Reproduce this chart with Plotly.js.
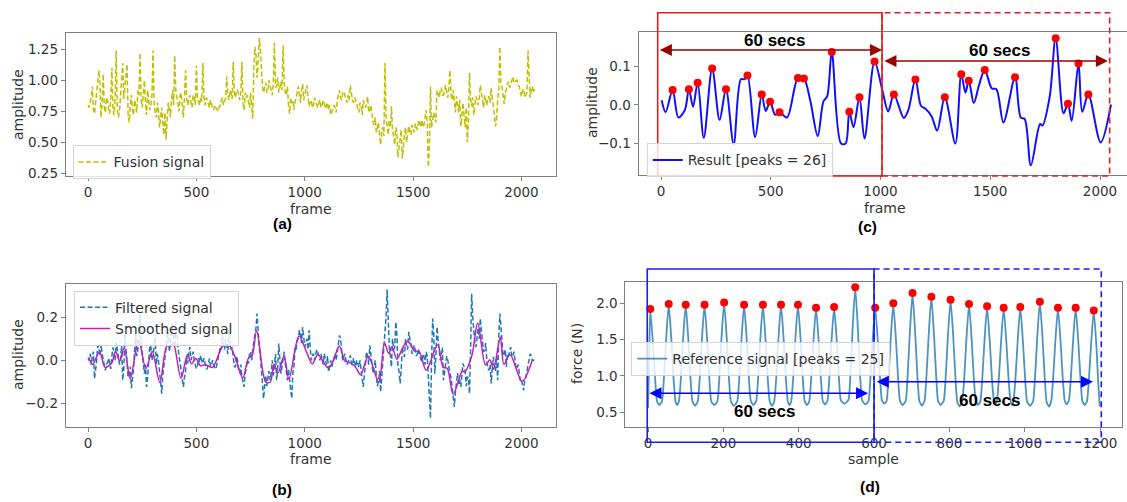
<!DOCTYPE html>
<html>
<head>
<meta charset="utf-8">
<script src="https://cdn.plot.ly/plotly-3.0.1.min.js"></script>
<style>html,body{margin:0;padding:0;background:#fff;}#chart{width:1127px;height:502px;}</style>
</head>
<body>
<div id="chart"></div>
<script>
// ---------- (a) Fusion signal: values read at frames 0,10,20,... and at 5,15,25,... ----------
const fusionStep = 10;
const fusionEven = [
0.80,0.83,0.95,0.73,0.88,1.08,0.70,1.05,0.74,0.84,0.73,1.10,0.72,1.24,0.70,0.86,1.14,0.95,1.13,0.66,
0.88,0.72,0.80,0.92,1.22,0.78,1.00,0.72,0.86,0.80,1.24,0.74,0.82,0.62,0.78,0.56,0.52,0.82,0.70,0.92,
1.20,0.86,0.75,0.90,0.70,1.08,0.80,0.88,0.78,0.86,1.12,0.82,0.87,1.14,0.80,0.84,0.78,0.80,0.76,0.78,
0.75,0.80,0.86,0.84,1.03,0.84,0.90,1.15,0.86,0.92,0.84,1.15,0.76,0.86,0.82,0.90,0.69,1.27,1.02,1.34,
1.05,0.90,0.98,0.92,0.95,0.88,1.30,0.96,0.90,0.99,1.28,0.90,0.95,0.73,0.82,0.76,0.88,0.95,0.82,0.97,
0.88,0.96,0.79,0.84,0.80,0.83,0.78,0.84,0.80,0.82,0.79,0.76,0.72,0.76,0.78,0.84,0.92,0.84,0.91,0.85,
0.88,0.96,0.84,0.86,0.80,0.74,0.79,0.84,0.78,0.87,0.76,0.71,0.64,0.58,0.66,0.48,0.62,1.14,0.60,0.68,
0.79,0.55,0.62,0.38,0.56,0.37,0.57,0.50,0.63,0.56,0.60,0.65,0.60,0.66,0.68,0.64,0.76,0.30,0.95,0.68,
0.70,0.92,0.86,0.94,0.88,0.96,0.86,1.08,0.84,0.81,0.87,0.74,0.63,0.82,0.62,0.50,1.06,0.79,0.72,0.87,
0.80,0.96,0.84,0.88,0.80,0.87,0.94,0.80,0.63,0.85,1.27,0.95,0.81,0.94,0.99,0.96,1.03,0.98,1.00,0.95,
0.87,0.93,0.88,1.24,0.86,0.95,0.93];
const fusionOdd = [
0.78,0.86,0.76,0.82,1.02,0.98,0.82,0.78,0.86,0.77, 0.86,0.76,0.85,0.78,0.74,1.02,0.85,1.06,0.72,0.80,
0.76,0.84,0.74,0.88,0.84,0.90,0.82,0.92,0.76,0.88, 0.80,0.70,0.76,0.72,0.66,0.74,0.68,0.76,0.85,0.80,
0.92,0.80,0.88,0.78,0.86,0.86,0.84,0.82,0.88,0.80, 0.86,0.80,0.83,0.86,0.86,0.80,0.84,0.77,0.80,0.76,
0.78,0.84,0.80,0.86,0.88,0.92,0.85,0.90,0.92,0.86, 0.90,0.82,0.90,0.88,0.78,0.82,1.10,1.20,1.15,1.25,
0.95,0.94,0.90,1.00,0.92,0.98,0.94,1.02,0.94,0.92, 0.98,0.88,0.80,0.86,0.84,0.82,0.90,0.86,0.92,0.84,
0.92,0.86,0.82,0.78,0.86,0.80,0.82,0.78,0.84,0.77, 0.82,0.80,0.75,0.80,0.74,0.88,0.86,0.90,0.88,0.82,
0.84,0.88,0.82,0.84,0.76,0.82,0.72,0.80,0.82,0.74, 0.80,0.66,0.70,0.62,0.56,0.60,0.55,0.70,0.56,0.62,
0.60,0.48,0.58,0.45,0.60,0.44,0.62,0.56,0.58,0.64, 0.58,0.62,0.68,0.62,0.62,0.70,0.66,0.45,0.62,0.74,
0.66,0.88,0.92,0.88,0.92,0.90,0.95,0.88,0.92,0.74, 0.80,0.84,0.70,0.72,0.78,0.66,0.85,0.86,0.80,0.84,
0.86,0.90,0.78,0.84,0.86,0.82,0.86,0.72,0.68,0.92, 0.98,0.88,0.90,0.96,0.94,0.99,0.98,1.00,0.96,0.90,
0.92,0.86,0.90,0.95,0.92,0.90];

// ---------- (b) Filtered signal: values read at frames 0,10,... and 5,15,... ----------
const filteredStep = 10;
const filteredEven = [
0.01,0.03,0.02,-0.085,0.0,0.06,0.078,0.0,-0.047,-0.01,-0.015,0.02,0.04,0.085,0.03,0.01,-0.093,0.124,0.0,-0.062,
-0.13,-0.04,0.124,0.05,0.217,0.02,-0.062,-0.124,0.0,0.062,0.02,0.108,0.03,-0.06,-0.155,-0.03,0.06,0.14,0.08,0.17,
0.06,0.14,0.02,-0.06,-0.124,-0.05,-0.015,0.062,0.02,0.0,-0.039,0.01,0.023,-0.015,-0.01,-0.039,0.008,-0.02,-0.023,-0.039,
0.0,0.062,0.116,0.05,0.07,0.14,0.05,0.015,-0.031,0.0,-0.06,-0.078,-0.124,-0.04,-0.015,0.04,0.062,0.12,0.217,0.062,
-0.047,-0.178,-0.07,-0.078,-0.093,0.0,-0.03,-0.093,0.078,-0.062,0.02,-0.015,-0.093,-0.1,-0.178,-0.031,0.05,0.1,0.12,0.155,
0.062,0.1,0.14,0.0,0.031,0.02,0.039,0.0,0.008,0.031,-0.02,-0.054,0.0,-0.01,0.031,0.05,0.116,0.04,0.016,0.0,
-0.01,0.023,-0.023,-0.01,0.0,-0.031,-0.06,-0.124,-0.02,0.016,0.07,0.0,-0.031,-0.07,-0.1,-0.147,-0.015,0.108,0.329,0.062,
-0.031,0.05,0.178,-0.031,-0.108,0.062,0.016,0.06,0.132,0.078,0.06,0.047,0.03,0.023,-0.008,0.02,0.039,-0.093,-0.27,0.194,
-0.062,0.155,0.062,0.02,-0.093,-0.02,0.0,-0.062,-0.12,-0.217,-0.093,-0.11,-0.124,-0.015,-0.05,-0.078,-0.155,0.31,0.124,0.062,
0.15,0.194,0.093,0.047,0.0,-0.047,-0.108,0.016,-0.05,-0.093,0.217,0.093,0.03,-0.031,0.02,0.062,0.016,0.0,-0.031,-0.06,
-0.093,-0.14,-0.08,-0.02,0.03,0.0,0.0];
const filteredOdd = [
0.0,-0.02,0.04,-0.05,0.07,0.02,0.03,-0.03,-0.02,0.01, -0.04,0.06,0.0,0.05,-0.02,0.07,-0.04,0.06,-0.08,-0.03,
-0.09,0.05,0.02,0.15,0.08,-0.04,-0.02,-0.08,0.07,0.0, 0.06,-0.02,0.0,-0.12,-0.07,0.02,0.1,0.04,0.12,0.1,
0.18,0.06,-0.03,-0.1,-0.08,0.02,0.03,0.0,0.04,-0.02, -0.03,-0.01,0.0,0.01,-0.04,-0.02,-0.03,0.0,-0.04,-0.02,
0.03,0.05,0.08,0.1,0.03,0.09,0.06,-0.03,0.02,-0.05, -0.02,-0.1,-0.06,0.0,0.03,0.0,0.09,0.15,0.13,0.02,
-0.09,-0.12,-0.12,-0.05,-0.06,-0.07,0.03,-0.04,0.02,-0.03, 0.04,-0.06,-0.04,-0.14,-0.06,0.06,0.09,0.14,0.08,0.12,
0.08,0.05,0.06,0.02,0.0,0.05,0.02,0.03,-0.02,0.0, 0.02,-0.03,-0.03,0.02,0.0,0.08,0.1,0.0,0.03,-0.02,
0.01,-0.01,0.01,-0.03,-0.02,0.0,-0.09,-0.07,0.04,-0.02, 0.03,-0.06,0.0,-0.12,-0.05,-0.08,0.04,0.2,0.15,0.02,
0.1,0.06,0.12,-0.05,-0.04,0.03,0.1,0.05,0.1,0.03, 0.07,0.02,0.05,0.0,0.03,-0.02,0.02,-0.18,0.0,0.12,
0.02,0.1,0.0,0.06,-0.05,0.02,-0.04,-0.08,-0.18,-0.15, -0.06,-0.09,-0.07,-0.03,-0.12,-0.08,0.05,0.2,0.08,0.12,
0.1,0.14,0.04,0.08,-0.04,-0.02,-0.05,-0.03,0.02,0.1, 0.16,0.02,0.05,0.03,0.05,0.02,0.04,-0.04,-0.02,-0.1,
-0.12,-0.09,-0.05,0.0,0.02,0.0];

// ---------- (b)/(c) Smoothed signal / Result ----------
const smoothFrames = [3,21,53,79,109,127,146,167,195,233,267,296,331,364,381,394,429,459,477,497,520,540,574,624,651,679,714,740,757,778,
820,841,858,877,904,927,973,1008,1035,1061,1106,1127,1159,1185,1205,1233,1258,1293,1341,1368,1387,1402,1425,1449,1475,1507,1528,1560,1613,1639,
1657,1685,1727,1738,1771,1798,1834,1854,1871,1902,1919,1947,2003,2050];
const smoothValues = [0.012,-0.019,0.039,-0.033,-0.013,0.041,-0.005,0.058,-0.086,0.095,-0.039,0.041,-0.103,0.067,0.067,0.077,-0.084,0.027,-0.016,0.008,-0.026,-0.019,-0.033,0.070,0.069,0.014,-0.081,0.009,0.022,0.138,
-0.101,-0.101,-0.018,-0.058,0.020,-0.088,0.113,0.039,-0.017,0.027,-0.034,-0.013,0.066,-0.003,-0.010,-0.030,-0.067,0.020,-0.101,0.080,0.032,0.063,0.005,0.052,0.091,0.043,0.041,-0.046,0.072,-0.033,
-0.037,-0.158,-0.050,-0.054,0.022,0.174,-0.022,0.003,-0.042,0.108,-0.018,0.027,-0.098,0.001];

// ---------- (c) Detected peaks ----------
const resultPeakFrames = [53,127,167,233,296,394,459,497,540,624,651,778,858,904,973,1061,1159,1293,1368,1402,1475,1613,1798,1854,1902,1947];
const resultPeakValues = [0.039,0.041,0.058,0.095,0.041,0.077,0.027,0.008,-0.019,0.070,0.069,0.138,-0.018,0.020,0.113,0.027,0.066,0.020,0.080,0.063,0.091,0.072,0.174,0.003,0.108,0.027];

// ---------- (d) Reference force signal ----------
const refSamples = [0,3,6,
13,19,24,30,37,42,48,55, 62,68,73,77,82,87,93,100, 107,113,118,125,132,137,143,150, 157,163,168,176,184,189,195,202,
209,215,220,228,237,242,248,255, 262,268,273,280,287,292,298,305, 312,318,323,329,335,340,346,353, 360,366,371,375,380,385,391,398,
405,411,416,422,428,433,439,446, 453,459,464,470,476,481,487,494, 501,507,512,522,532,537,543,550, 557,563,568,576,585,590,596,603,
610,616,621,627,633,638,644,651, 658,664,669,676,684,689,695,702, 709,715,720,727,734,739,745,752, 759,765,770,777,785,790,796,803,
810,816,821,827,834,839,845,852, 859,865,870,876,882,887,893,900, 907,913,918,922,926,931,937,944, 951,957,962,966,970,975,981,988,
995,1001,1006,1014,1022,1027,1033,1040, 1047,1053,1058,1064,1070,1075,1081,1088, 1095,1101,1106,1111,1117,1122,1128,1135,
1142,1148,1153,1159,1165,1170,1176,1183, 1190,1195,1199];
const refForce = [0.56,1.25,1.92,
1.45,0.95,0.65,0.60,0.65,0.95,1.50,1.99, 1.50,0.95,0.65,0.60,0.65,0.95,1.50,1.98, 1.50,0.95,0.65,0.59,0.65,0.95,1.50,1.98, 1.50,0.95,0.65,0.60,0.65,0.95,1.52,2.01,
1.52,0.95,0.65,0.59,0.65,0.95,1.50,1.98, 1.50,0.95,0.65,0.60,0.65,0.95,1.50,1.98, 1.50,0.95,0.65,0.59,0.65,0.95,1.50,1.98, 1.50,0.95,0.65,0.60,0.65,0.95,1.50,1.98,
1.50,0.95,0.65,0.60,0.65,0.95,1.47,1.94, 1.47,0.95,0.65,0.61,0.65,0.95,1.48,1.95, 1.48,0.95,0.66,0.62,0.67,1.00,1.65,2.22, 1.65,1.00,0.67,0.61,0.65,0.95,1.47,1.94,
1.47,0.95,0.66,0.62,0.65,0.95,1.50,2.00, 1.50,0.95,0.65,0.60,0.66,1.00,1.60,2.14, 1.60,1.00,0.66,0.59,0.66,1.00,1.57,2.09, 1.57,0.98,0.65,0.60,0.66,0.98,1.55,2.05,
1.55,0.97,0.64,0.58,0.65,0.95,1.50,1.99, 1.50,0.95,0.65,0.60,0.65,0.95,1.48,1.96, 1.48,0.95,0.66,0.61,0.66,0.95,1.47,1.94, 1.47,0.95,0.66,0.60,0.66,0.95,1.47,1.95,
1.47,0.95,0.65,0.59,0.65,0.96,1.53,2.02, 1.53,0.96,0.64,0.58,0.65,0.95,1.47,1.94, 1.47,0.95,0.66,0.61,0.66,0.95,1.47,1.94,
1.47,0.95,0.65,0.60,0.65,0.94,1.44,1.90, 1.42,0.90,0.58];
const refPeakSamples = [6,55,100,150,202,255,305,353,398,446,494,550,603,651,702,752,803,852,900,944,988,1040,1088,1135,1183];
const refPeakValues = [1.92,1.99,1.98,1.98,2.01,1.98,1.98,1.98,1.98,1.94,1.95,2.22,1.94,2.00,2.14,2.09,2.05,1.99,1.96,1.94,1.95,2.02,1.94,1.94,1.90];

// ---------- labels ----------
const labelFusion = 'Fusion signal';
const labelFiltered = 'Filtered signal';
const labelSmoothed = 'Smoothed signal';
const labelResult = 'Result [peaks = ' + resultPeakFrames.length + ']';
const labelRef = 'Reference signal [peaks = ' + refPeakSamples.length + ']';
const spanText = '60 secs';
const frameTicks = [0,500,1000,1500,2000];
const sampleTicks = [0,200,400,600,800,1000,1200];

// merge the two read passes (frames 0,10,.. and 5,15,..) into one series
function interleave(even, odd, step) {
  const xs = [], ys = [];
  for (let i = 0; i < even.length; i++) {
    xs.push(i * step); ys.push(even[i]);
    if (i < odd.length) { xs.push(i * step + step / 2); ys.push(odd[i]); }
  }
  return {x: xs, y: ys};
}
const fusion = interleave(fusionEven, fusionOdd, fusionStep);
const filtered = interleave(filteredEven, filteredOdd, filteredStep);

const W = 1127, H = 502;
const px = v => v / W;
const py = v => 1 - v / H;
const FONT = 'DejaVu Sans, sans-serif';
const TXT = '#333333';

const traces = [
  {x: fusion.x, y: fusion.y, type: 'scatter', mode: 'lines', name: labelFusion,
   line: {color: '#bfbf00', width: 1.5, dash: '5px,2.5px'}, xaxis: 'x', yaxis: 'y', legend: 'legend'},
  {x: filtered.x, y: filtered.y, type: 'scatter', mode: 'lines', name: labelFiltered,
   line: {color: '#1f77b4', width: 1.5, dash: '5px,2.5px'}, xaxis: 'x2', yaxis: 'y2', legend: 'legend2'},
  {x: smoothFrames, y: smoothValues, type: 'scatter', mode: 'lines', name: labelSmoothed,
   line: {color: '#c21fc2', width: 1.5, shape: 'spline', smoothing: 0.9}, xaxis: 'x2', yaxis: 'y2', legend: 'legend2'},
  {x: smoothFrames, y: smoothValues, type: 'scatter', mode: 'lines', name: labelResult,
   line: {color: '#1010ff', width: 2, shape: 'spline', smoothing: 0.9}, xaxis: 'x3', yaxis: 'y3', legend: 'legend3'},
  {x: resultPeakFrames, y: resultPeakValues, type: 'scatter', mode: 'markers', showlegend: false,
   marker: {color: '#ff0000', size: 8}, xaxis: 'x3', yaxis: 'y3'},
  {x: refSamples, y: refForce, type: 'scatter', mode: 'lines', name: labelRef,
   line: {color: 'rgba(31,119,180,0.8)', width: 1.8, shape: 'spline', smoothing: 0.5}, xaxis: 'x4', yaxis: 'y4', legend: 'legend4'},
  {x: refPeakSamples, y: refPeakValues, type: 'scatter', mode: 'markers', showlegend: false,
   marker: {color: '#ff0000', size: 8}, xaxis: 'x4', yaxis: 'y4'}
];

function axis(domain, range, extra) {
  return Object.assign({
    domain: domain, range: range, showgrid: false, zeroline: false,
    showline: true, mirror: true, linecolor: '#7f7f7f', linewidth: 1,
    ticks: 'outside', ticklen: 4, tickcolor: '#7f7f7f', tickwidth: 1,
    tickfont: {family: FONT, size: 13.5, color: TXT}, fixedrange: true
  }, extra || {});
}

const dA = [px(65.7), px(556.4)];
const dC = [px(638.5), 1.0];
const dD = [px(625.4), px(1122)];
const legendBase = {xanchor: 'left', yanchor: 'top', bgcolor: 'rgba(255,255,255,0.8)',
                    bordercolor: '#d4d4d4', borderwidth: 1, font: {family: FONT, size: 14, color: TXT}};

const layout = {
  width: W, height: H, margin: {l: 0, r: 0, t: 0, b: 0}, autosize: false,
  paper_bgcolor: '#ffffff', plot_bgcolor: '#ffffff',
  font: {family: FONT, color: TXT},
  xaxis: axis(dA, [-103, 2161], {anchor: 'y', tickvals: frameTicks}),
  yaxis: axis([py(176), py(33.3)], [0.228, 1.379], {anchor: 'x', tickvals: [0.25,0.5,0.75,1.0,1.25], tickformat: '.2f'}),
  xaxis2: axis(dA, [-103, 2161], {anchor: 'y2', tickvals: frameTicks}),
  yaxis2: axis([py(426.7), py(284)], [-0.309, 0.355], {anchor: 'x2', tickvals: [-0.2, 0, 0.2], tickformat: '.1f'}),
  xaxis3: axis(dC, [-102.5, 2123], {anchor: 'y3', tickvals: frameTicks}),
  yaxis3: axis([py(175), py(31.7)], [-0.183, 0.191], {anchor: 'x3', tickvals: [-0.1, 0, 0.1], tickformat: '.1f'}),
  xaxis4: axis(dD, [-60, 1258], {anchor: 'y4', tickvals: sampleTicks}),
  yaxis4: axis([py(426.7), py(281.7)], [0.302, 2.297], {anchor: 'x4', tickvals: [0.5,1.0,1.5,2.0], tickformat: '.1f'}),
  legend: Object.assign({x: px(72.5), y: py(145.3)}, legendBase),
  legend2: Object.assign({x: px(74), y: py(290.7)}, legendBase),
  legend3: Object.assign({x: px(646.7), y: py(143.3)}, legendBase),
  legend4: Object.assign({x: px(631.3), y: py(342)}, legendBase),
  shapes: [
    {type: 'rect', xref: 'x3', yref: 'paper', x0: -15, x1: 1007, y0: py(176), y1: py(12.7), line: {color: '#e0201e', width: 1.6}, layer: 'above'},
    {type: 'rect', xref: 'x3', yref: 'paper', x0: 1007, x1: 2044, y0: py(176), y1: py(12.7), line: {color: '#e0201e', width: 1.6, dash: '6px,4px'}, layer: 'above'},
    {type: 'rect', xref: 'x4', yref: 'paper', x0: 1203, x1: 600, y0: py(442.3), y1: py(269), line: {color: '#1a1aff', width: 1.6, dash: '6px,4px'}, layer: 'above'},
    {type: 'rect', xref: 'x4', yref: 'paper', x0: -2, x1: 600, y0: py(442.3), y1: py(269), line: {color: '#1a1aff', width: 1.6}, layer: 'above'}
  ],
  annotations: []
};

function arrow(xref, x0, x1, yPix, color) {
  return {xref: xref, yref: 'paper', x: x1, y: py(yPix), ax: x0, ay: 0, axref: xref, ayref: 'pixel',
          text: '', showarrow: true, arrowside: 'end+start', arrowhead: 2, startarrowhead: 2,
          arrowsize: 1.5, startarrowsize: 1.5, arrowwidth: 1.6, arrowcolor: color, standoff: 0, startstandoff: 0};
}
function note(text, xref, x, y, size) {
  return {text: text, xref: xref, yref: 'paper', x: x, y: y, showarrow: false, xanchor: 'center', yanchor: 'middle',
          font: {family: 'Liberation Sans, Arial, sans-serif', size: size, color: '#000'}};
}
const A = layout.annotations;
A.push(arrow('x3', -12, 1007, 50, '#990000'));
A.push(arrow('x3', 1011, 2036, 61, '#990000'));
A.push(arrow('x4', 0, 584, 393.3, '#0000ff'));
A.push(arrow('x4', 603, 1181, 381.7, '#0000ff'));
A.push(note('<b>' + spanText + '</b>', 'x3', 519, py(40), 17));
A.push(note('<b>' + spanText + '</b>', 'x3', 1544, py(50.7), 17));
A.push(note('<b>' + spanText + '</b>', 'x4', 310, py(411.7), 17));
A.push(note('<b>' + spanText + '</b>', 'x4', 907, py(400), 17));
A.push(note('<b>(a)</b>', 'paper', px(282), py(223), 15.5));
A.push(note('<b>(b)</b>', 'paper', px(282), py(489), 15.5));
A.push(note('<b>(c)</b>', 'paper', px(867), py(226), 15.5));
A.push(note('<b>(d)</b>', 'paper', px(870), py(486), 15.5));
const tf = {family: FONT, size: 14, color: TXT};
function axTitle(text, x, y, rot) {
  return {text: text, xref: 'paper', yref: 'paper', x: px(x), y: py(y), showarrow: false,
          xanchor: 'center', yanchor: 'middle', font: tf, textangle: rot || 0};
}
A.push(axTitle('frame', 311, 209));
A.push(axTitle('amplitude', 18, 105, -90));
A.push(axTitle('frame', 311, 459));
A.push(axTitle('amplitude', 18, 355, -90));
A.push(axTitle('frame', 885, 208));
A.push(axTitle('amplitude', 592, 103, -90));
A.push(axTitle('sample', 873, 459));
A.push(axTitle('force (N)', 577, 354, -90));

Plotly.newPlot('chart', traces, layout, {displayModeBar: false, staticPlot: true});
</script>
</body>
</html>
